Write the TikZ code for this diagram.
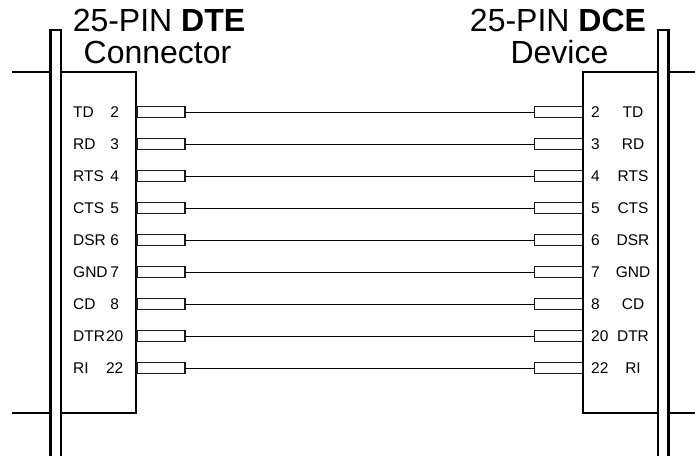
\documentclass[tikz,border=0pt]{standalone}
\usepackage{fontspec}
\setmainfont{Liberation Sans}
\tikzset{
  x=1pt,y=1pt,
  heavy/.style={draw=black,line width=2.5pt},
  shell/.style={heavy,rectangle,inner sep=0pt,outer sep=0pt,minimum width=75pt,minimum height=341pt},
  pinbox/.style={draw=black!90,line width=1.2pt,fill=white,rectangle,inner sep=0pt,outer sep=0pt,minimum width=48pt,minimum height=10.5pt},
  wire/.style={draw=black,line width=0.9pt},
  lbl/.style={font=\fontsize{15.5}{17}\selectfont,inner sep=0pt,text height=11pt,text depth=0pt},
  ttl/.style={font=\fontsize{32}{34}\selectfont,inner sep=0pt,anchor=base},
}
\newcommand{\pinrow}[4]{% index, y, name, number
  \node[pinbox] (L#1) at (161,-#2) {};
  \node[pinbox] (R#1) at (558.5,-#2) {};
  \draw[wire] (L#1.east) -- (R#1.west);
  \node[lbl,anchor=west] (LN#1) at (73,-#2-0.4) {#3};
  \node[lbl] (LP#1) at (114.7,-#2-0.4) {#4};
  \node[lbl,anchor=west] (RP#1) at (591,-#2-0.4) {#4};
  \node[lbl] (RN#1) at (633,-#2-0.4) {#3};
}
\begin{document}
\begin{tikzpicture}
\useasboundingbox (0,0) rectangle (695,-455);
% shells
\node[shell] (lshell) at (98.5,-242.5) {};
\node[shell] (rshell) at (620.5,-242.5) {};
% flanges
\path[heavy,fill=white] (50.5,-456) -- (50.5,-30) -- (61,-30) -- (61,-456);
\path[heavy,fill=white] (658,-456) -- (658,-30) -- (668.5,-30) -- (668.5,-456);
% stubs
\coordinate (ltA) at (12,-72);
\coordinate (ltB) at (50,-72);
\coordinate (lbA) at (12,-413);
\coordinate (lbB) at (50,-413);
\coordinate (rtA) at (669,-72);
\coordinate (rtB) at (695,-72);
\coordinate (rbA) at (669,-413);
\coordinate (rbB) at (695,-413);
\draw[heavy] (ltA) -- (ltB);
\draw[heavy] (lbA) -- (lbB);
\draw[heavy] (rtA) -- (rtB);
\draw[heavy] (rbA) -- (rbB);
% pins
\pinrow{1}{112}{TD}{2}
\pinrow{2}{144}{RD}{3}
\pinrow{3}{176}{RTS}{4}
\pinrow{4}{208}{CTS}{5}
\pinrow{5}{240}{DSR}{6}
\pinrow{6}{272}{GND}{7}
\pinrow{7}{304}{CD}{8}
\pinrow{8}{336}{DTR}{20}
\pinrow{9}{368}{RI}{22}
% titles
\node[ttl] (t1) at (159,-31.5) {25-PIN \textbf{DTE}};
\node[ttl] (t2) at (157.5,-63) {Connector};
\node[ttl] (t3) at (558,-31.5) {25-PIN \textbf{DCE}};
\node[ttl] (t4) at (559.5,-63) {Device};
\end{tikzpicture}
\end{document}
